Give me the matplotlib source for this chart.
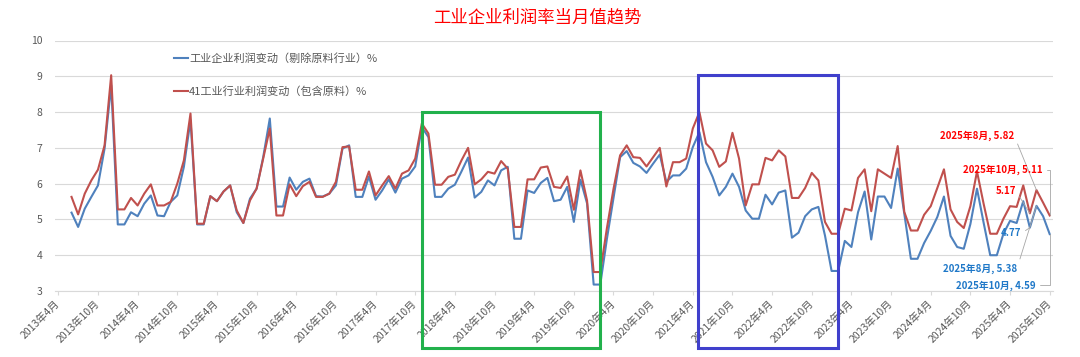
import numpy as np
import matplotlib
matplotlib.use("Agg")
import matplotlib.pyplot as plt
from matplotlib.patches import Rectangle

plt.rcParams['font.family'] = ['Noto Sans CJK SC', 'DejaVu Sans']

# months 2013-04 .. 2025-10 (151 categories)
months = []
for y in range(2013, 2026):
    for m in range(1, 13):
        if (y, m) < (2013, 4) or (y, m) > (2025, 10):
            continue
        months.append(f"{y}年{m}月")

nan = np.nan
# 41工业行业利润变动（包含原料）%
red_vals = [nan, nan, 5.63, 5.14, 5.72, 6.09, 6.39, 7.07, 9.03,
            5.28, 5.28, 5.60, 5.39, 5.72, 5.98, 5.39, 5.39, 5.49, 6.00, 6.65, 7.96,
            4.88, 4.88, 5.65, 5.51, 5.78, 5.95, 5.25, 4.90, 5.53, 5.86, 6.70, 7.54,
            5.11, 5.11, 5.98, 5.65, 5.93, 6.05, 5.63, 5.63, 5.72, 6.05, 7.02, 7.04,
            5.83, 5.83, 6.34, 5.67, 5.95, 6.21, 5.86, 6.28, 6.37, 6.70, 7.68, 7.40,
            5.97, 5.97, 6.19, 6.25, 6.65, 7.00, 5.98, 6.12, 6.33, 6.28, 6.63, 6.42,
            4.79, 4.79, 6.12, 6.12, 6.45, 6.48, 5.91, 5.88, 6.20, 5.27, 6.37, 5.53,
            3.53, 3.53, 4.75, 5.85, 6.79, 7.07, 6.74, 6.72, 6.48, 6.74, 7.00, 5.92,
            6.60, 6.60, 6.70, 7.54, 8.00, 7.12, 6.93, 6.47, 6.62, 7.42, 6.70, 5.39,
            5.98, 5.98, 6.72, 6.65, 6.93, 6.76, 5.60, 5.60, 5.88, 6.30, 6.09, 4.93,
            4.60, 4.60, 5.30, 5.25, 6.16, 6.40, 5.23, 6.40, 6.28, 6.16, 7.05, 5.21,
            4.69, 4.69, 5.13, 5.37, 5.88, 6.40, 5.28, 4.93, 4.76, 5.37, 6.34, 5.44,
            4.60, 4.60, 5.02, 5.37, 5.35, 5.95, 5.17, 5.82, 5.47, 5.11]
# 工业企业利润变动（剔除原料行业）%
blue_vals = [nan, nan, 5.19, 4.79, 5.30, 5.63, 5.95, 6.98, 8.75,
             4.86, 4.86, 5.20, 5.09, 5.44, 5.67, 5.11, 5.09, 5.49, 5.67, 6.47, 7.77,
             4.86, 4.86, 5.65, 5.51, 5.78, 5.95, 5.20, 4.90, 5.58, 5.86, 6.74, 7.82,
             5.36, 5.36, 6.17, 5.83, 6.05, 6.14, 5.65, 5.64, 5.72, 5.95, 6.98, 7.07,
             5.63, 5.63, 6.20, 5.55, 5.81, 6.12, 5.75, 6.14, 6.23, 6.48, 7.58, 7.30,
             5.63, 5.63, 5.86, 5.97, 6.34, 6.73, 5.61, 5.77, 6.09, 5.95, 6.37, 6.47,
             4.46, 4.46, 5.81, 5.74, 6.02, 6.16, 5.51, 5.55, 5.91, 4.93, 6.11, 5.45,
             3.18, 3.18, 4.45, 5.60, 6.74, 6.91, 6.58, 6.48, 6.30, 6.56, 6.81, 6.05,
             6.23, 6.23, 6.42, 7.02, 7.44, 6.60, 6.19, 5.67, 5.91, 6.28, 5.91, 5.25,
             5.02, 5.02, 5.69, 5.42, 5.75, 5.81, 4.49, 4.63, 5.09, 5.28, 5.35, 4.55,
             3.56, 3.56, 4.40, 4.23, 5.20, 5.78, 4.44, 5.64, 5.64, 5.32, 6.42, 5.16,
             3.90, 3.90, 4.34, 4.68, 5.07, 5.64, 4.54, 4.23, 4.18, 4.87, 5.86, 4.91,
             4.00, 4.00, 4.60, 4.96, 4.90, 5.51, 4.77, 5.38, 5.09, 4.59]

red_name = "41工业行业利润变动（包含原料）%"
blue_name = "工业企业利润变动（剔除原料行业）%"

# labelled points: (month, text, offset in points, elbow?)
red_notes = [("2025年8月", "2025年8月, 5.82", (-16, 39), False),
             ("2025年10月", "2025年10月, 5.11", (-5, 33), True),
             ("2025年7月", "5.17", (-10, 16), False)]
blue_notes = [("2025年7月", "4.77", (-6, -4), False),
              ("2025年8月", "2025年8月, 5.38", (-14, -45), False),
              ("2025年10月", "2025年10月, 4.59", (-10, -37), True)]

RED = '#C0504D'
BLUE = '#4F81BD'
GRAY = '#595959'

x = np.arange(len(months))
fig = plt.figure(figsize=(10.8, 3.57), dpi=100)
ax = fig.add_axes([55/1080, 1-291/357, (1053-55)/1080, (291-40.5)/357])

ax.plot(x, blue_vals, color=BLUE, lw=1.5, label=blue_name)
ax.plot(x, red_vals, color=RED, lw=1.5, label=red_name)

ax.set_xlim(-0.5, len(months) - 0.5)
ax.set_ylim(3, 10)
ax.set_yticks(range(3, 11))
ax.yaxis.grid(True, color='#D9D9D9', lw=0.8)
ax.set_axisbelow(True)
for s in ['top', 'right', 'left']:
    ax.spines[s].set_visible(False)
ax.spines['bottom'].set_color('#D9D9D9')
ax.tick_params(axis='y', length=0, pad=9, labelsize=7.5, labelcolor=GRAY)
ax.set_xticks(x[::6])
ax.set_xticklabels(months[::6], rotation=45, ha='right', va='center',
                   rotation_mode='anchor')
ax.tick_params(axis='x', length=3, color='#D9D9D9', pad=5, labelsize=7.5,
               labelcolor=GRAY)

# highlight boxes
ax.add_patch(Rectangle((55.0, 1.41), 26.9, 6.59, fill=False, ec='#22B14C',
                       lw=2.2, clip_on=False, zorder=5))
ax.add_patch(Rectangle((96.8, 1.41), 21.1, 7.63, fill=False, ec='#4040CC',
                       lw=2.2, clip_on=False, zorder=5))


def note(i, val, txt, off, elbow, color):
    cs = "angle,angleA=0,angleB=90,rad=0" if elbow else "arc3"
    ax.annotate(txt, (i, val), xytext=off, textcoords='offset points',
                ha='right', va='center', fontsize=7, fontweight='bold', color=color,
                arrowprops=dict(arrowstyle='-', color='#A6A6A6', lw=0.6,
                                shrinkA=1, shrinkB=0, relpos=(1, 0.5),
                                connectionstyle=cs))


for m, txt, off, elbow in red_notes:
    i = months.index(m)
    note(i, red_vals[i], txt, off, elbow, '#FF0000')
for m, txt, off, elbow in blue_notes:
    i = months.index(m)
    note(i, blue_vals[i], txt, off, elbow, '#1F78C8')

leg = fig.legend(loc='upper left', bbox_to_anchor=(168/1080, 1-48/357), frameon=False,
                 fontsize=8, handlelength=1.3, handletextpad=0.1, labelspacing=2.0,
                 borderpad=0)
for t in leg.get_texts():
    t.set_color(GRAY)

fig.text(0.498, 0.95, "工业企业利润率当月值趋势", ha='center', va='center',
         fontsize=12.5, color='#FF0000')

fig.savefig("out.png", dpi=100)
